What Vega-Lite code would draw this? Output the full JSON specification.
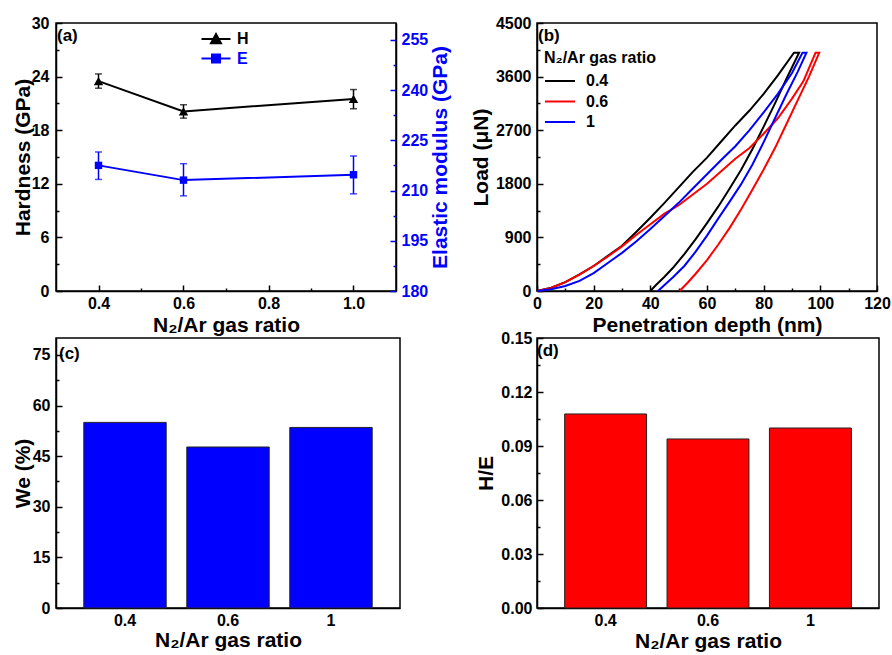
{
  "$schema": "https://vega.github.io/schema/vega-lite/v6.json",
  "padding": {"left": 11, "top": 14, "right": 5, "bottom": 5},
  "background": "white",
  "datasets": {
    "he": [
      {"series": "H", "ratio": 0.4, "value": 23.5, "lo": 22.7, "hi": 24.3},
      {"series": "H", "ratio": 0.6, "value": 20.1, "lo": 19.35, "hi": 20.85},
      {"series": "H", "ratio": 1.0, "value": 21.5, "lo": 20.4, "hi": 22.55},
      {"series": "E", "ratio": 0.4, "value": 217.5, "lo": 213.3, "hi": 221.5},
      {"series": "E", "ratio": 0.6, "value": 213.1, "lo": 208.4, "hi": 218.0},
      {"series": "E", "ratio": 1.0, "value": 214.7, "lo": 209.0, "hi": 220.3}
    ],
    "curves": [
      {"ratio": "0.4", "i": 0, "depth": 0, "load": 0},
      {"ratio": "0.4", "i": 1, "depth": 5, "load": 55},
      {"ratio": "0.4", "i": 2, "depth": 10, "load": 150},
      {"ratio": "0.4", "i": 3, "depth": 15, "load": 280},
      {"ratio": "0.4", "i": 4, "depth": 20, "load": 420},
      {"ratio": "0.4", "i": 5, "depth": 25, "load": 590},
      {"ratio": "0.4", "i": 6, "depth": 30, "load": 760},
      {"ratio": "0.4", "i": 7, "depth": 35, "load": 990},
      {"ratio": "0.4", "i": 8, "depth": 40, "load": 1230},
      {"ratio": "0.4", "i": 9, "depth": 45, "load": 1480},
      {"ratio": "0.4", "i": 10, "depth": 50, "load": 1740},
      {"ratio": "0.4", "i": 11, "depth": 55, "load": 2000},
      {"ratio": "0.4", "i": 12, "depth": 60, "load": 2240},
      {"ratio": "0.4", "i": 13, "depth": 65, "load": 2510},
      {"ratio": "0.4", "i": 14, "depth": 70, "load": 2780},
      {"ratio": "0.4", "i": 15, "depth": 75, "load": 3030},
      {"ratio": "0.4", "i": 16, "depth": 80, "load": 3310},
      {"ratio": "0.4", "i": 17, "depth": 85, "load": 3620},
      {"ratio": "0.4", "i": 18, "depth": 90.7, "load": 4000},
      {"ratio": "0.4", "i": 19, "depth": 92.5, "load": 4000},
      {"ratio": "0.4", "i": 20, "depth": 88, "load": 3560},
      {"ratio": "0.4", "i": 21, "depth": 84, "load": 3150},
      {"ratio": "0.4", "i": 22, "depth": 80, "load": 2760},
      {"ratio": "0.4", "i": 23, "depth": 76, "load": 2380},
      {"ratio": "0.4", "i": 24, "depth": 72, "load": 2030},
      {"ratio": "0.4", "i": 25, "depth": 68, "load": 1720},
      {"ratio": "0.4", "i": 26, "depth": 64, "load": 1420},
      {"ratio": "0.4", "i": 27, "depth": 60, "load": 1140},
      {"ratio": "0.4", "i": 28, "depth": 56, "load": 870},
      {"ratio": "0.4", "i": 29, "depth": 52, "load": 620},
      {"ratio": "0.4", "i": 30, "depth": 48, "load": 390},
      {"ratio": "0.4", "i": 31, "depth": 45, "load": 240},
      {"ratio": "0.4", "i": 32, "depth": 42, "load": 100},
      {"ratio": "0.4", "i": 33, "depth": 40, "load": 0},
      {"ratio": "0.6", "i": 0, "depth": 0, "load": 0},
      {"ratio": "0.6", "i": 1, "depth": 5, "load": 50},
      {"ratio": "0.6", "i": 2, "depth": 10, "load": 150},
      {"ratio": "0.6", "i": 3, "depth": 15, "load": 275},
      {"ratio": "0.6", "i": 4, "depth": 20, "load": 420},
      {"ratio": "0.6", "i": 5, "depth": 25, "load": 580},
      {"ratio": "0.6", "i": 6, "depth": 30, "load": 750},
      {"ratio": "0.6", "i": 7, "depth": 35, "load": 940},
      {"ratio": "0.6", "i": 8, "depth": 40, "load": 1120},
      {"ratio": "0.6", "i": 9, "depth": 45, "load": 1300},
      {"ratio": "0.6", "i": 10, "depth": 50, "load": 1440},
      {"ratio": "0.6", "i": 11, "depth": 55, "load": 1620},
      {"ratio": "0.6", "i": 12, "depth": 60, "load": 1800},
      {"ratio": "0.6", "i": 13, "depth": 65, "load": 2010},
      {"ratio": "0.6", "i": 14, "depth": 70, "load": 2220},
      {"ratio": "0.6", "i": 15, "depth": 75, "load": 2400},
      {"ratio": "0.6", "i": 16, "depth": 80, "load": 2640},
      {"ratio": "0.6", "i": 17, "depth": 85, "load": 2900},
      {"ratio": "0.6", "i": 18, "depth": 90, "load": 3230},
      {"ratio": "0.6", "i": 19, "depth": 94, "load": 3520},
      {"ratio": "0.6", "i": 20, "depth": 98.3, "load": 4000},
      {"ratio": "0.6", "i": 21, "depth": 99.6, "load": 4000},
      {"ratio": "0.6", "i": 22, "depth": 96, "load": 3600},
      {"ratio": "0.6", "i": 23, "depth": 92, "load": 3200},
      {"ratio": "0.6", "i": 24, "depth": 88, "load": 2800},
      {"ratio": "0.6", "i": 25, "depth": 84, "load": 2400},
      {"ratio": "0.6", "i": 26, "depth": 80, "load": 2040},
      {"ratio": "0.6", "i": 27, "depth": 76, "load": 1700},
      {"ratio": "0.6", "i": 28, "depth": 72, "load": 1370},
      {"ratio": "0.6", "i": 29, "depth": 68, "load": 1060},
      {"ratio": "0.6", "i": 30, "depth": 64, "load": 780},
      {"ratio": "0.6", "i": 31, "depth": 60, "load": 520},
      {"ratio": "0.6", "i": 32, "depth": 56, "load": 290},
      {"ratio": "0.6", "i": 33, "depth": 53, "load": 130},
      {"ratio": "0.6", "i": 34, "depth": 50.3, "load": 0},
      {"ratio": "1", "i": 0, "depth": 0, "load": 0},
      {"ratio": "1", "i": 1, "depth": 5, "load": 30},
      {"ratio": "1", "i": 2, "depth": 10, "load": 85},
      {"ratio": "1", "i": 3, "depth": 15, "load": 170},
      {"ratio": "1", "i": 4, "depth": 20, "load": 300},
      {"ratio": "1", "i": 5, "depth": 25, "load": 470},
      {"ratio": "1", "i": 6, "depth": 30, "load": 640},
      {"ratio": "1", "i": 7, "depth": 35, "load": 830},
      {"ratio": "1", "i": 8, "depth": 40, "load": 1040},
      {"ratio": "1", "i": 9, "depth": 45, "load": 1260},
      {"ratio": "1", "i": 10, "depth": 50, "load": 1480},
      {"ratio": "1", "i": 11, "depth": 55, "load": 1720},
      {"ratio": "1", "i": 12, "depth": 60, "load": 1960},
      {"ratio": "1", "i": 13, "depth": 65, "load": 2200},
      {"ratio": "1", "i": 14, "depth": 70, "load": 2430},
      {"ratio": "1", "i": 15, "depth": 75, "load": 2700},
      {"ratio": "1", "i": 16, "depth": 80, "load": 3000},
      {"ratio": "1", "i": 17, "depth": 85, "load": 3310},
      {"ratio": "1", "i": 18, "depth": 90, "load": 3660},
      {"ratio": "1", "i": 19, "depth": 93.7, "load": 4000},
      {"ratio": "1", "i": 20, "depth": 95.1, "load": 4000},
      {"ratio": "1", "i": 21, "depth": 92, "load": 3680},
      {"ratio": "1", "i": 22, "depth": 88, "load": 3300},
      {"ratio": "1", "i": 23, "depth": 84, "load": 2900},
      {"ratio": "1", "i": 24, "depth": 80, "load": 2500},
      {"ratio": "1", "i": 25, "depth": 76, "load": 2120},
      {"ratio": "1", "i": 26, "depth": 72, "load": 1790},
      {"ratio": "1", "i": 27, "depth": 68, "load": 1500},
      {"ratio": "1", "i": 28, "depth": 64, "load": 1220},
      {"ratio": "1", "i": 29, "depth": 60, "load": 930},
      {"ratio": "1", "i": 30, "depth": 56, "load": 660},
      {"ratio": "1", "i": 31, "depth": 52, "load": 420},
      {"ratio": "1", "i": 32, "depth": 48, "load": 230},
      {"ratio": "1", "i": 33, "depth": 45, "load": 100},
      {"ratio": "1", "i": 34, "depth": 42.7, "load": 0}
    ],
    "bars": [
      {"ratio": "0.4", "We": 55.0, "HE": 0.1078},
      {"ratio": "0.6", "We": 47.7, "HE": 0.0939},
      {"ratio": "1", "We": 53.5, "HE": 0.1}
    ]
  },
  "columns": 2,
  "spacing": {"row": 47, "column": 137},
  "bounds": "flush",
  "concat": [
    {
      "width": 340,
      "height": 268,
      "title": {"text": "(a)", "anchor": "start", "frame": "group", "orient": "top", "offset": -30, "baseline": "top", "dx": 1},
      "data": {"name": "he"},
      "encoding": {
        "x": {
          "field": "ratio", "type": "quantitative",
          "scale": {"domain": [0.3, 1.1], "nice": false, "zero": false},
          "axis": {
            "title": "N₂/Ar gas ratio",
            "values": [0.4, 0.5, 0.6, 0.7, 0.8, 0.9, 1.0],
            "labelExpr": "(datum.value == 0.5 || datum.value == 0.7 || datum.value == 0.9) ? '' : format(datum.value, '.1f')",
            "tickSize": {"condition": {"test": "datum.value == 0.5 || datum.value == 0.7 || datum.value == 0.9", "value": -3}, "value": -6},
            "labelPadding": 10,
            "titlePadding": 0
          }
        },
        "color": {
          "field": "series", "type": "nominal",
          "scale": {"domain": ["H", "E"], "range": ["black", "blue"]},
          "legend": {
            "title": null, "orient": "none", "legendX": 152, "legendY": 8, "padding": 0,
            "symbolSize": 100, "symbolStrokeWidth": 2, "labelOffset": 13, "rowPadding": 2.5,
            "labelFontSize": 16, "labelFontWeight": "bold", "labelFont": "Liberation Sans",
            "encode": {
              "symbols": {"update": {
                "shape": {"signal": "datum.value === 'H' ? 'M-2.9,0H2.9M-1,0.85L0,-1L1,0.85Z' : 'M-2.9,0H2.9M-0.8,-0.8H0.8V0.8H-0.8Z'"},
                "fill": {"signal": "datum.value === 'H' ? 'black' : 'blue'"},
                "stroke": {"signal": "datum.value === 'H' ? 'black' : 'blue'"},
                "strokeWidth": {"value": 2},
                "opacity": {"value": 1}
              }},
              "labels": {"update": {"fill": {"signal": "datum.value === 'H' ? 'black' : 'blue'"}}}
            }
          }
        }
      },
      "layer": [
        {
          "transform": [{"filter": "datum.series === 'H'"}],
          "encoding": {
            "y": {
              "field": "value", "type": "quantitative",
              "scale": {"domain": [0, 30], "nice": false},
              "axis": {
                "title": "Hardness (GPa)",
                "values": [0, 3, 6, 9, 12, 15, 18, 21, 24, 27, 30],
                "labelExpr": "datum.value % 6 == 0 ? datum.label : ''",
                "tickSize": {"condition": {"test": "datum.value % 6 != 0", "value": -3}, "value": -6},
                "labelPadding": 13,
                "titlePadding": -2
              }
            }
          },
          "layer": [
            {"mark": {"type": "line", "strokeWidth": 2}},
            {"mark": {"type": "point", "shape": "triangle-up", "filled": true, "size": 90, "opacity": 1}},
            {
              "mark": {"type": "errorbar", "thickness": 1.5, "ticks": {"size": 7, "thickness": 1.5}},
              "encoding": {
                "y": {"field": "lo", "type": "quantitative", "title": "Hardness (GPa)"},
                "y2": {"field": "hi"}
              }
            }
          ]
        },
        {
          "transform": [{"filter": "datum.series === 'E'"}],
          "encoding": {
            "y": {
              "field": "value", "type": "quantitative",
              "scale": {"domain": [180, 260], "nice": false, "zero": false},
              "axis": {
                "orient": "right",
                "title": "Elastic modulus (GPa)",
                "values": [180, 187.5, 195, 202.5, 210, 217.5, 225, 232.5, 240, 247.5, 255],
                "labelExpr": "(datum.value - 180) % 15 == 0 ? datum.label : ''",
                "tickSize": {"condition": {"test": "(datum.value - 180) % 15 != 0", "value": -3}, "value": -6},
                "labelPadding": 11,
                "titlePadding": 2,
                "labelColor": "blue",
                "tickColor": "blue",
                "titleColor": "blue",
                "titleAngle": 270,
                "titleBaseline": "top"
              }
            }
          },
          "layer": [
            {"mark": {"type": "line", "strokeWidth": 2}},
            {"mark": {"type": "point", "shape": "square", "filled": true, "size": 55, "opacity": 1}},
            {
              "mark": {"type": "errorbar", "thickness": 1.5, "ticks": {"size": 7, "thickness": 1.5}},
              "encoding": {
                "y": {"field": "lo", "type": "quantitative", "title": "Elastic modulus (GPa)"},
                "y2": {"field": "hi"}
              }
            }
          ]
        }
      ],
      "resolve": {"scale": {"y": "independent"}}
    },
    {
      "width": 340,
      "height": 268,
      "title": {"text": "(b)", "anchor": "start", "frame": "group", "orient": "top", "offset": -30, "baseline": "top", "dx": 1},
      "data": {"name": "curves"},
      "mark": {"type": "line", "strokeWidth": 2},
      "encoding": {
        "x": {
          "field": "depth", "type": "quantitative",
          "scale": {"domain": [0, 120], "nice": false},
          "axis": {
            "title": "Penetration depth (nm)",
            "values": [0, 10, 20, 30, 40, 50, 60, 70, 80, 90, 100, 110, 120],
            "labelExpr": "datum.value % 20 == 0 ? datum.label : ''",
            "tickSize": {"condition": {"test": "datum.value % 20 != 0", "value": -3}, "value": -6},
            "labelPadding": 10,
            "titlePadding": 0
          }
        },
        "y": {
          "field": "load", "type": "quantitative",
          "scale": {"domain": [0, 4500], "nice": false},
          "axis": {
            "title": "Load (μN)",
            "values": [0, 450, 900, 1350, 1800, 2250, 2700, 3150, 3600, 4050, 4500],
            "labelExpr": "datum.value % 900 == 0 ? '' + datum.value : ''",
            "tickSize": {"condition": {"test": "datum.value % 900 != 0", "value": -3}, "value": -6},
            "labelPadding": 12,
            "titlePadding": 4
          }
        },
        "color": {
          "field": "ratio", "type": "nominal",
          "scale": {"domain": ["0.4", "0.6", "1"], "range": ["black", "red", "blue"]},
          "legend": {
            "title": "N₂/Ar gas ratio", "orient": "none", "legendX": 7, "legendY": 27, "padding": 0,
            "symbolType": "M-1.875,0H1.875", "symbolSize": 256, "symbolStrokeWidth": 2, "symbolOffset": 7,
            "labelOffset": 17, "rowPadding": 3.5, "titlePadding": 6,
            "labelFontSize": 16, "labelFontWeight": "bold", "labelFont": "Liberation Sans",
            "titleFontSize": 16, "titleFontWeight": "bold", "titleFont": "Liberation Sans", "titleColor": "black"
          }
        },
        "order": {"field": "i", "type": "quantitative"}
      }
    },
    {
      "width": 344,
      "height": 270,
      "title": {"text": "(c)", "anchor": "start", "frame": "group", "orient": "top", "offset": -24.5, "baseline": "top", "dx": 3},
      "data": {"name": "bars"},
      "mark": {"type": "bar", "color": "#0000ff", "stroke": "#222222", "strokeWidth": 1},
      "encoding": {
        "x": {
          "field": "ratio", "type": "nominal", "sort": null,
          "scale": {"paddingInner": 0.2, "paddingOuter": 0.27},
          "axis": {"title": "N₂/Ar gas ratio", "labelAngle": 0, "tickSize": -6, "labelPadding": 10, "titlePadding": 1}
        },
        "y": {
          "field": "We", "type": "quantitative",
          "scale": {"domain": [0, 80], "nice": false},
          "axis": {
            "title": "We (%)",
            "values": [0, 7.5, 15, 22.5, 30, 37.5, 45, 52.5, 60, 67.5, 75],
            "labelExpr": "datum.value % 15 == 0 ? datum.label : ''",
            "tickSize": {"condition": {"test": "datum.value % 15 != 0", "value": -3}, "value": -6},
            "labelPadding": 12,
            "titlePadding": -1
          }
        }
      }
    },
    {
      "width": 342,
      "height": 270,
      "title": {"text": "(d)", "anchor": "start", "frame": "group", "orient": "top", "offset": -30, "baseline": "top", "dx": 0},
      "data": {"name": "bars"},
      "mark": {"type": "bar", "color": "#ff0000", "stroke": "#222222", "strokeWidth": 1},
      "encoding": {
        "x": {
          "field": "ratio", "type": "nominal", "sort": null,
          "scale": {"paddingInner": 0.2, "paddingOuter": 0.27},
          "axis": {"title": "N₂/Ar gas ratio", "labelAngle": 0, "tickSize": -6, "labelPadding": 10, "titlePadding": 2}
        },
        "y": {
          "field": "HE", "type": "quantitative",
          "scale": {"domain": [0, 0.15], "nice": false},
          "axis": {
            "title": "H/E",
            "values": [0, 0.015, 0.03, 0.045, 0.06, 0.075, 0.09, 0.105, 0.12, 0.135, 0.15],
            "labelExpr": "(datum.value == 0.015 || datum.value == 0.045 || datum.value == 0.075 || datum.value == 0.105 || datum.value == 0.135) ? '' : format(datum.value, '.2f')",
            "tickSize": {"condition": {"test": "datum.value == 0.015 || datum.value == 0.045 || datum.value == 0.075 || datum.value == 0.105 || datum.value == 0.135", "value": -3}, "value": -6},
            "labelPadding": 11,
            "titlePadding": 4
          }
        }
      }
    }
  ],
  "resolve": {"scale": {"color": "independent", "x": "independent", "y": "independent"}},
  "config": {
    "font": "Liberation Sans",
    "view": {"stroke": "black", "strokeWidth": 1.5},
    "axis": {
      "labelFont": "Liberation Sans", "labelFontWeight": "bold", "labelFontSize": 16, "labelColor": "black",
      "titleFont": "Liberation Sans", "titleFontWeight": "bold", "titleFontSize": 21, "titleColor": "black",
      "domainColor": "black", "domainWidth": 1.5, "tickColor": "black", "tickWidth": 1.5, "grid": false,
      "labelFlush": false, "labelOverlap": false
    },
    "title": {"font": "Liberation Sans", "fontSize": 17, "fontWeight": "bold", "color": "black"},
    "legend": {"labelColor": "black"}
  }
}
